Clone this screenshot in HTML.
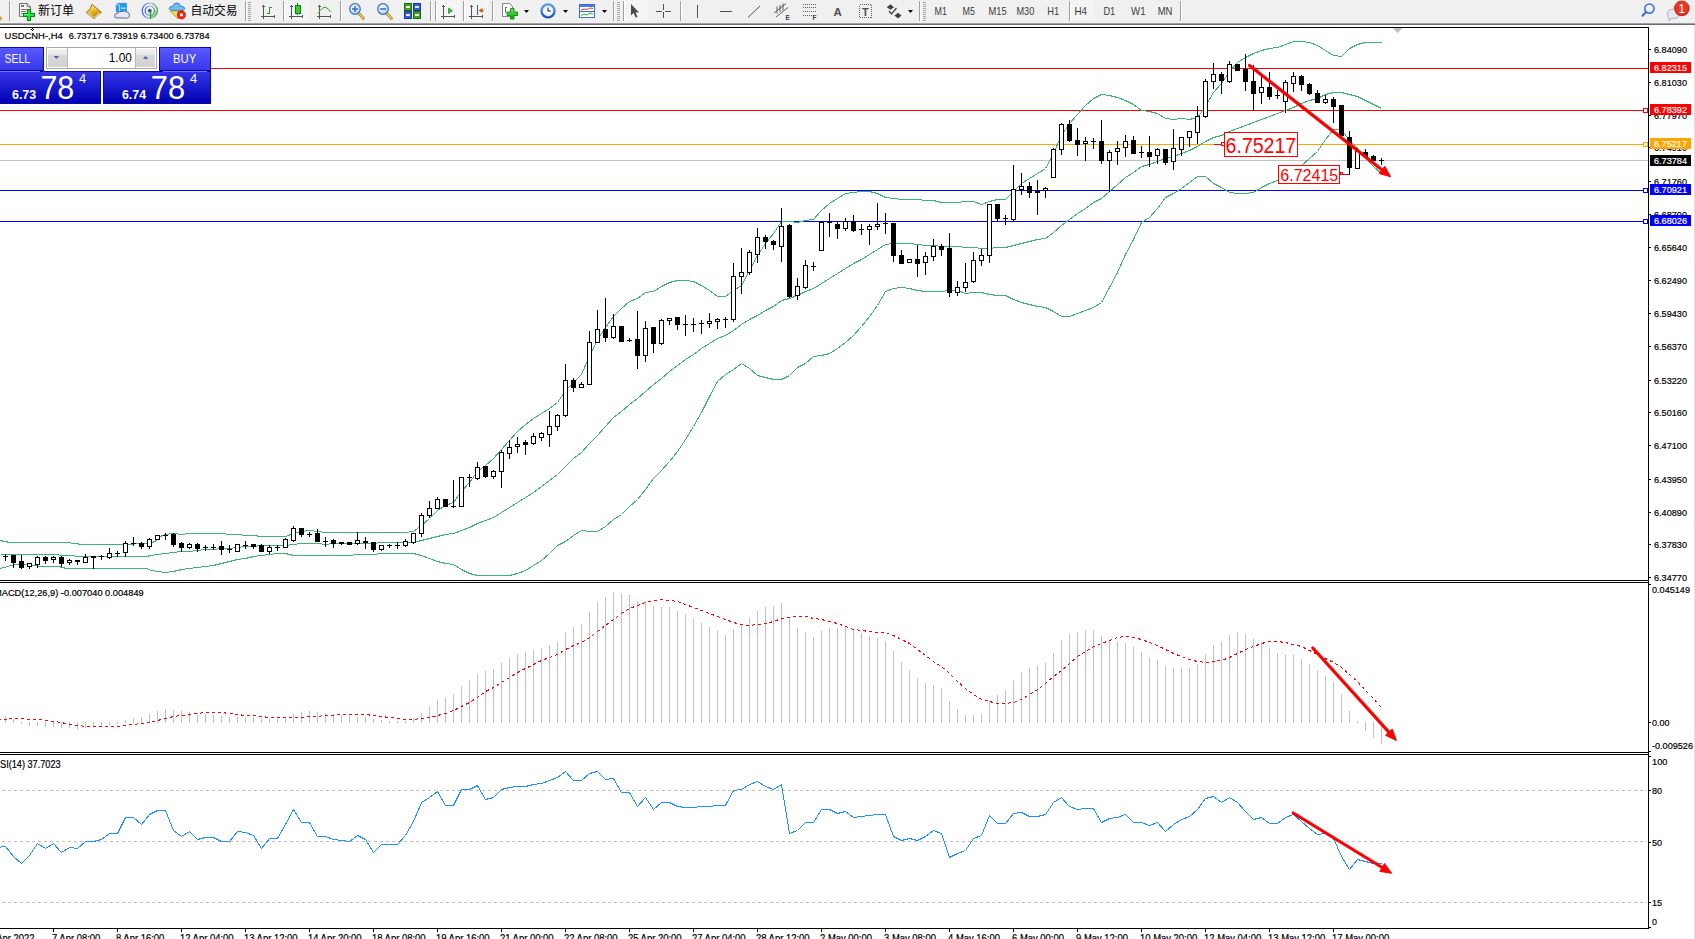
<!DOCTYPE html><html><head><meta charset="utf-8"><title>MT4</title><style>html,body{margin:0;padding:0;background:#fff;}body{width:1695px;height:939px;overflow:hidden;position:relative;}</style></head><body><svg width="1695" height="939" viewBox="0 0 1695 939" style="position:absolute;left:0;top:0"><rect x="0" y="0" width="1695" height="939" fill="#ffffff"/><rect x="0" y="0" width="1695" height="23" fill="#f0f0f0"/><rect x="0" y="23" width="1695" height="1" fill="#a0a0a0"/><rect x="0" y="24" width="1695" height="1" fill="#6e6e6e"/><rect x="1694" y="25" width="1" height="914" fill="#e0e0e0"/><g fill="#000" shape-rendering="crispEdges"><rect x="0" y="27" width="1649" height="1"/><rect x="1648" y="27" width="1" height="902"/><rect x="0" y="580" width="1649" height="1"/><rect x="0" y="582" width="1649" height="1"/><rect x="0" y="752" width="1649" height="1"/><rect x="0" y="754" width="1649" height="1"/><rect x="0" y="928" width="1649" height="1"/></g><g shape-rendering="crispEdges"><rect x="0" y="68" width="1648" height="1" fill="#ff0000"/><rect x="0" y="110" width="1648" height="1" fill="#ff0000"/><rect x="0" y="144" width="1648" height="1" fill="#ffa500"/><rect x="0" y="160" width="1648" height="1" fill="#c0c0c0"/><rect x="0" y="190" width="1648" height="1" fill="#0000ff"/><rect x="0" y="221" width="1648" height="1" fill="#0000ff"/></g><svg x="0" y="28" width="1648" height="552" viewBox="0 28 1648 552" overflow="hidden"><g shape-rendering="crispEdges"><polyline points="0.5,540.5 4.5,541.5 10.5,542.5 25.5,542.5 66.5,542.5 82.5,544.5 98.5,544.5 121.5,544.5 147.5,543.5 155.5,541.5 157.5,537.5 165.5,534.5 173.5,533.5 181.5,534.5 189.5,533.5 197.5,533.5 205.5,533.5 213.5,533.5 221.5,533.5 229.5,534.5 237.5,534.5 245.5,535.5 253.5,535.5 261.5,536.5 269.5,536.5 277.5,536.5 285.5,536.5 293.5,533.5 301.5,531.5 309.5,530.5 317.5,531.5 325.5,532.5 333.5,532.5 341.5,532.5 349.5,532.5 357.5,532.5 365.5,532.5 373.5,532.5 381.5,532.5 389.5,532.5 397.5,532.5 405.5,532.5 413.5,531.5 421.5,525.5 429.5,518.5 437.5,510.5 445.5,505.5 453.5,502.5 461.5,491.5 469.5,482.5 477.5,471.5 485.5,465.5 493.5,458.5 501.5,449.5 509.5,440.5 517.5,431.5 525.5,424.5 533.5,418.5 541.5,413.5 549.5,408.5 557.5,402.5 565.5,390.5 573.5,382.5 581.5,374.5 589.5,356.5 597.5,339.5 605.5,327.5 613.5,316.5 621.5,308.5 629.5,301.5 637.5,298.5 645.5,292.5 653.5,291.5 661.5,286.5 669.5,282.5 677.5,280.5 685.5,280.5 693.5,281.5 701.5,285.5 709.5,290.5 717.5,296.5 725.5,296.5 733.5,290.5 741.5,285.5 749.5,270.5 757.5,255.5 765.5,243.5 773.5,233.5 781.5,221.5 789.5,221.5 797.5,222.5 805.5,220.5 813.5,219.5 821.5,210.5 829.5,203.5 837.5,198.5 845.5,193.5 853.5,192.5 861.5,191.5 869.5,191.5 877.5,193.5 885.5,197.5 893.5,198.5 901.5,199.5 909.5,199.5 917.5,199.5 925.5,200.5 933.5,200.5 941.5,202.5 949.5,202.5 957.5,202.5 965.5,201.5 973.5,201.5 981.5,204.5 989.5,201.5 997.5,199.5 1005.5,199.5 1013.5,191.5 1021.5,183.5 1029.5,178.5 1037.5,173.5 1045.5,168.5 1053.5,153.5 1061.5,135.5 1069.5,123.5 1077.5,114.5 1085.5,105.5 1093.5,98.5 1101.5,94.5 1109.5,95.5 1117.5,97.5 1125.5,100.5 1133.5,104.5 1141.5,110.5 1149.5,111.5 1157.5,113.5 1165.5,118.5 1173.5,119.5 1181.5,118.5 1189.5,119.5 1197.5,117.5 1205.5,106.5 1213.5,92.5 1221.5,83.5 1229.5,71.5 1237.5,62.5 1245.5,57.5 1253.5,53.5 1261.5,50.5 1269.5,48.5 1277.5,47.5 1285.5,44.5 1293.5,41.5 1301.5,41.5 1309.5,42.5 1317.5,45.5 1325.5,50.5 1333.5,55.5 1341.5,56.5 1349.5,48.5 1357.5,44.5 1365.5,42.5 1373.5,42.5 1381.5,42.5" fill="none" stroke="#3cb371" stroke-width="1"/><polyline points="0.5,554.5 50.5,554.5 66.5,555.5 82.5,556.5 98.5,556.5 130.5,556.5 145.5,556.5 157.5,554.5 165.5,553.5 173.5,552.5 181.5,551.5 189.5,551.5 197.5,550.5 205.5,549.5 213.5,549.5 221.5,548.5 229.5,548.5 237.5,547.5 245.5,546.5 253.5,546.5 261.5,545.5 269.5,545.5 277.5,545.5 285.5,545.5 293.5,544.5 301.5,543.5 309.5,543.5 317.5,543.5 325.5,544.5 333.5,543.5 341.5,543.5 349.5,543.5 357.5,543.5 365.5,543.5 373.5,543.5 381.5,542.5 389.5,542.5 397.5,542.5 405.5,542.5 413.5,542.5 421.5,540.5 429.5,538.5 437.5,536.5 445.5,534.5 453.5,533.5 461.5,530.5 469.5,527.5 477.5,523.5 485.5,520.5 493.5,517.5 501.5,512.5 509.5,507.5 517.5,502.5 525.5,497.5 533.5,492.5 541.5,486.5 549.5,480.5 557.5,474.5 565.5,466.5 573.5,458.5 581.5,452.5 589.5,443.5 597.5,435.5 605.5,426.5 613.5,417.5 621.5,411.5 629.5,404.5 637.5,398.5 645.5,391.5 653.5,384.5 661.5,378.5 669.5,371.5 677.5,365.5 685.5,359.5 693.5,354.5 701.5,348.5 709.5,343.5 717.5,338.5 725.5,335.5 733.5,330.5 741.5,324.5 749.5,319.5 757.5,315.5 765.5,310.5 773.5,306.5 781.5,300.5 789.5,298.5 797.5,295.5 805.5,291.5 813.5,288.5 821.5,283.5 829.5,278.5 837.5,273.5 845.5,268.5 853.5,263.5 861.5,259.5 869.5,254.5 877.5,249.5 885.5,244.5 893.5,243.5 901.5,243.5 909.5,243.5 917.5,244.5 925.5,245.5 933.5,245.5 941.5,246.5 949.5,246.5 957.5,246.5 965.5,247.5 973.5,247.5 981.5,248.5 989.5,248.5 997.5,247.5 1005.5,247.5 1013.5,245.5 1021.5,243.5 1029.5,241.5 1037.5,239.5 1045.5,238.5 1053.5,232.5 1061.5,225.5 1069.5,219.5 1077.5,213.5 1085.5,208.5 1093.5,202.5 1101.5,198.5 1109.5,191.5 1117.5,184.5 1125.5,177.5 1133.5,172.5 1141.5,166.5 1149.5,164.5 1157.5,161.5 1165.5,158.5 1173.5,156.5 1181.5,153.5 1189.5,150.5 1197.5,146.5 1205.5,141.5 1213.5,137.5 1221.5,135.5 1229.5,131.5 1237.5,128.5 1245.5,125.5 1253.5,122.5 1261.5,119.5 1269.5,116.5 1277.5,113.5 1285.5,110.5 1293.5,107.5 1301.5,103.5 1309.5,100.5 1317.5,98.5 1325.5,94.5 1333.5,92.5 1341.5,92.5 1349.5,94.5 1357.5,96.5 1365.5,100.5 1373.5,104.5 1381.5,108.5" fill="none" stroke="#3cb371" stroke-width="1"/><polyline points="0.5,568.5 14.5,564.5 25.5,564.5 42.5,566.5 58.5,566.5 66.5,568.5 146.5,568.5 151.5,570.5 157.5,571.5 165.5,572.5 173.5,571.5 181.5,569.5 189.5,568.5 197.5,567.5 205.5,566.5 213.5,565.5 221.5,563.5 229.5,561.5 237.5,559.5 245.5,558.5 253.5,556.5 261.5,555.5 269.5,554.5 277.5,553.5 285.5,553.5 293.5,555.5 301.5,555.5 309.5,555.5 317.5,555.5 325.5,555.5 333.5,555.5 341.5,555.5 349.5,555.5 357.5,554.5 365.5,554.5 373.5,554.5 381.5,553.5 389.5,553.5 397.5,553.5 405.5,553.5 413.5,553.5 421.5,555.5 429.5,558.5 437.5,561.5 445.5,563.5 453.5,564.5 461.5,569.5 469.5,573.5 477.5,575.5 485.5,575.5 493.5,575.5 501.5,575.5 509.5,575.5 517.5,573.5 525.5,570.5 533.5,565.5 541.5,560.5 549.5,553.5 557.5,545.5 565.5,541.5 573.5,535.5 581.5,530.5 589.5,531.5 597.5,531.5 605.5,526.5 613.5,519.5 621.5,514.5 629.5,506.5 637.5,499.5 645.5,489.5 653.5,478.5 661.5,470.5 669.5,461.5 677.5,451.5 685.5,439.5 693.5,426.5 701.5,412.5 709.5,396.5 717.5,381.5 725.5,374.5 733.5,369.5 741.5,363.5 749.5,368.5 757.5,375.5 765.5,377.5 773.5,379.5 781.5,379.5 789.5,375.5 797.5,367.5 805.5,363.5 813.5,356.5 821.5,355.5 829.5,353.5 837.5,348.5 845.5,342.5 853.5,335.5 861.5,326.5 869.5,316.5 877.5,305.5 885.5,291.5 893.5,288.5 901.5,287.5 909.5,288.5 917.5,290.5 925.5,291.5 933.5,291.5 941.5,291.5 949.5,290.5 957.5,290.5 965.5,293.5 973.5,292.5 981.5,292.5 989.5,294.5 997.5,295.5 1005.5,295.5 1013.5,299.5 1021.5,302.5 1029.5,304.5 1037.5,306.5 1045.5,307.5 1053.5,311.5 1061.5,316.5 1069.5,316.5 1077.5,313.5 1085.5,310.5 1093.5,307.5 1101.5,302.5 1109.5,287.5 1117.5,272.5 1125.5,254.5 1133.5,239.5 1141.5,222.5 1149.5,217.5 1157.5,208.5 1165.5,197.5 1173.5,193.5 1181.5,188.5 1189.5,182.5 1197.5,176.5 1205.5,176.5 1213.5,183.5 1221.5,187.5 1229.5,192.5 1237.5,193.5 1245.5,193.5 1253.5,192.5 1261.5,187.5 1269.5,183.5 1277.5,180.5 1285.5,177.5 1293.5,172.5 1301.5,165.5 1309.5,158.5 1317.5,151.5 1325.5,139.5 1333.5,129.5 1341.5,129.5 1349.5,140.5 1357.5,148.5 1365.5,157.5 1373.5,166.5 1381.5,173.5" fill="none" stroke="#3cb371" stroke-width="1"/></g><g fill="#000" shape-rendering="crispEdges"><rect x="5" y="554" width="1" height="7"/><rect x="3" y="556" width="5" height="1"/><rect x="13" y="555" width="1" height="13"/><rect x="11" y="555" width="5" height="8"/><rect x="21" y="555" width="1" height="14"/><rect x="19" y="561" width="5" height="7"/><rect x="29" y="563" width="1" height="6"/><rect x="27" y="563" width="5" height="4"/><rect x="28" y="564" width="3" height="2" fill="#fff"/><rect x="37" y="556" width="1" height="12"/><rect x="35" y="557" width="5" height="8"/><rect x="36" y="558" width="3" height="6" fill="#fff"/><rect x="45" y="556" width="1" height="8"/><rect x="43" y="557" width="5" height="4"/><rect x="53" y="556" width="1" height="7"/><rect x="51" y="557" width="5" height="3"/><rect x="52" y="558" width="3" height="1" fill="#fff"/><rect x="61" y="556" width="1" height="11"/><rect x="59" y="557" width="5" height="7"/><rect x="69" y="559" width="1" height="6"/><rect x="67" y="560" width="5" height="3"/><rect x="68" y="561" width="3" height="1" fill="#fff"/><rect x="77" y="560" width="1" height="5"/><rect x="75" y="560" width="5" height="2"/><rect x="85" y="554" width="1" height="9"/><rect x="83" y="557" width="5" height="6"/><rect x="84" y="558" width="3" height="4" fill="#fff"/><rect x="93" y="556" width="1" height="13"/><rect x="91" y="556" width="5" height="2"/><rect x="101" y="555" width="1" height="5"/><rect x="99" y="556" width="5" height="1"/><rect x="109" y="548" width="1" height="11"/><rect x="107" y="553" width="5" height="5"/><rect x="108" y="554" width="3" height="3" fill="#fff"/><rect x="117" y="551" width="1" height="6"/><rect x="115" y="553" width="5" height="1"/><rect x="125" y="541" width="1" height="16"/><rect x="123" y="543" width="5" height="10"/><rect x="124" y="544" width="3" height="8" fill="#fff"/><rect x="133" y="537" width="1" height="9"/><rect x="131" y="543" width="5" height="1"/><rect x="141" y="542" width="1" height="7"/><rect x="139" y="543" width="5" height="4"/><rect x="149" y="538" width="1" height="11"/><rect x="147" y="539" width="5" height="8"/><rect x="148" y="540" width="3" height="6" fill="#fff"/><rect x="157" y="535" width="1" height="5"/><rect x="155" y="535" width="5" height="5"/><rect x="156" y="536" width="3" height="3" fill="#fff"/><rect x="165" y="533" width="1" height="7"/><rect x="163" y="535" width="5" height="1"/><rect x="173" y="533" width="1" height="14"/><rect x="171" y="534" width="5" height="11"/><rect x="181" y="542" width="1" height="10"/><rect x="179" y="543" width="5" height="5"/><rect x="189" y="543" width="1" height="6"/><rect x="187" y="544" width="5" height="4"/><rect x="188" y="545" width="3" height="2" fill="#fff"/><rect x="197" y="543" width="1" height="9"/><rect x="195" y="544" width="5" height="5"/><rect x="205" y="545" width="1" height="6"/><rect x="203" y="547" width="5" height="1"/><rect x="213" y="544" width="1" height="6"/><rect x="211" y="547" width="5" height="1"/><rect x="221" y="541" width="1" height="14"/><rect x="219" y="546" width="5" height="4"/><rect x="229" y="545" width="1" height="8"/><rect x="227" y="549" width="5" height="1"/><rect x="237" y="544" width="1" height="8"/><rect x="235" y="544" width="5" height="8"/><rect x="236" y="545" width="3" height="6" fill="#fff"/><rect x="245" y="541" width="1" height="8"/><rect x="243" y="545" width="5" height="1"/><rect x="253" y="544" width="1" height="5"/><rect x="251" y="544" width="5" height="3"/><rect x="261" y="544" width="1" height="8"/><rect x="259" y="545" width="5" height="7"/><rect x="269" y="545" width="1" height="9"/><rect x="267" y="547" width="5" height="5"/><rect x="268" y="548" width="3" height="3" fill="#fff"/><rect x="277" y="545" width="1" height="6"/><rect x="275" y="547" width="5" height="1"/><rect x="285" y="538" width="1" height="10"/><rect x="283" y="539" width="5" height="9"/><rect x="284" y="540" width="3" height="7" fill="#fff"/><rect x="293" y="526" width="1" height="16"/><rect x="291" y="528" width="5" height="13"/><rect x="292" y="529" width="3" height="11" fill="#fff"/><rect x="301" y="528" width="1" height="9"/><rect x="299" y="528" width="5" height="7"/><rect x="309" y="532" width="1" height="5"/><rect x="307" y="534" width="5" height="1"/><rect x="317" y="529" width="1" height="13"/><rect x="315" y="533" width="5" height="9"/><rect x="325" y="537" width="1" height="10"/><rect x="323" y="541" width="5" height="1"/><rect x="333" y="539" width="1" height="9"/><rect x="331" y="540" width="5" height="4"/><rect x="341" y="542" width="1" height="3"/><rect x="339" y="542" width="5" height="2"/><rect x="349" y="542" width="1" height="3"/><rect x="347" y="542" width="5" height="3"/><rect x="357" y="532" width="1" height="13"/><rect x="355" y="540" width="5" height="4"/><rect x="356" y="541" width="3" height="2" fill="#fff"/><rect x="365" y="537" width="1" height="12"/><rect x="363" y="541" width="5" height="2"/><rect x="373" y="542" width="1" height="10"/><rect x="371" y="542" width="5" height="8"/><rect x="381" y="545" width="1" height="6"/><rect x="379" y="545" width="5" height="5"/><rect x="380" y="546" width="3" height="3" fill="#fff"/><rect x="389" y="544" width="1" height="4"/><rect x="387" y="545" width="5" height="1"/><rect x="397" y="542" width="1" height="7"/><rect x="395" y="545" width="5" height="1"/><rect x="405" y="539" width="1" height="8"/><rect x="403" y="541" width="5" height="5"/><rect x="404" y="542" width="3" height="3" fill="#fff"/><rect x="413" y="533" width="1" height="11"/><rect x="411" y="533" width="5" height="10"/><rect x="412" y="534" width="3" height="8" fill="#fff"/><rect x="421" y="513" width="1" height="24"/><rect x="419" y="515" width="5" height="19"/><rect x="420" y="516" width="3" height="17" fill="#fff"/><rect x="429" y="501" width="1" height="17"/><rect x="427" y="508" width="5" height="8"/><rect x="428" y="509" width="3" height="6" fill="#fff"/><rect x="437" y="497" width="1" height="12"/><rect x="435" y="499" width="5" height="10"/><rect x="436" y="500" width="3" height="8" fill="#fff"/><rect x="445" y="499" width="1" height="8"/><rect x="443" y="499" width="5" height="8"/><rect x="453" y="480" width="1" height="28"/><rect x="451" y="506" width="5" height="1"/><rect x="461" y="477" width="1" height="30"/><rect x="459" y="477" width="5" height="30"/><rect x="460" y="478" width="3" height="28" fill="#fff"/><rect x="469" y="474" width="1" height="13"/><rect x="467" y="477" width="5" height="1"/><rect x="477" y="462" width="1" height="18"/><rect x="475" y="467" width="5" height="12"/><rect x="476" y="468" width="3" height="10" fill="#fff"/><rect x="485" y="466" width="1" height="12"/><rect x="483" y="466" width="5" height="11"/><rect x="493" y="470" width="1" height="9"/><rect x="491" y="471" width="5" height="6"/><rect x="492" y="472" width="3" height="4" fill="#fff"/><rect x="501" y="450" width="1" height="38"/><rect x="499" y="452" width="5" height="20"/><rect x="500" y="453" width="3" height="18" fill="#fff"/><rect x="509" y="440" width="1" height="19"/><rect x="507" y="447" width="5" height="7"/><rect x="508" y="448" width="3" height="5" fill="#fff"/><rect x="517" y="437" width="1" height="16"/><rect x="515" y="444" width="5" height="3"/><rect x="516" y="445" width="3" height="1" fill="#fff"/><rect x="525" y="440" width="1" height="15"/><rect x="523" y="442" width="5" height="3"/><rect x="533" y="433" width="1" height="12"/><rect x="531" y="436" width="5" height="8"/><rect x="532" y="437" width="3" height="6" fill="#fff"/><rect x="541" y="432" width="1" height="9"/><rect x="539" y="433" width="5" height="5"/><rect x="540" y="434" width="3" height="3" fill="#fff"/><rect x="549" y="411" width="1" height="36"/><rect x="547" y="426" width="5" height="9"/><rect x="548" y="427" width="3" height="7" fill="#fff"/><rect x="557" y="414" width="1" height="17"/><rect x="555" y="415" width="5" height="12"/><rect x="556" y="416" width="3" height="10" fill="#fff"/><rect x="565" y="364" width="1" height="53"/><rect x="563" y="380" width="5" height="36"/><rect x="564" y="381" width="3" height="34" fill="#fff"/><rect x="573" y="378" width="1" height="14"/><rect x="571" y="380" width="5" height="8"/><rect x="581" y="382" width="1" height="6"/><rect x="579" y="384" width="5" height="4"/><rect x="580" y="385" width="3" height="2" fill="#fff"/><rect x="589" y="331" width="1" height="54"/><rect x="587" y="342" width="5" height="43"/><rect x="588" y="343" width="3" height="41" fill="#fff"/><rect x="597" y="310" width="1" height="33"/><rect x="595" y="329" width="5" height="14"/><rect x="596" y="330" width="3" height="12" fill="#fff"/><rect x="605" y="298" width="1" height="44"/><rect x="603" y="329" width="5" height="9"/><rect x="613" y="314" width="1" height="25"/><rect x="611" y="326" width="5" height="12"/><rect x="612" y="327" width="3" height="10" fill="#fff"/><rect x="621" y="326" width="1" height="16"/><rect x="619" y="326" width="5" height="16"/><rect x="629" y="338" width="1" height="4"/><rect x="627" y="340" width="5" height="1"/><rect x="637" y="311" width="1" height="58"/><rect x="635" y="339" width="5" height="17"/><rect x="645" y="321" width="1" height="41"/><rect x="643" y="328" width="5" height="28"/><rect x="644" y="329" width="3" height="26" fill="#fff"/><rect x="653" y="327" width="1" height="26"/><rect x="651" y="327" width="5" height="17"/><rect x="661" y="319" width="1" height="26"/><rect x="659" y="320" width="5" height="24"/><rect x="660" y="321" width="3" height="22" fill="#fff"/><rect x="669" y="318" width="1" height="7"/><rect x="667" y="318" width="5" height="3"/><rect x="668" y="319" width="3" height="1" fill="#fff"/><rect x="677" y="317" width="1" height="13"/><rect x="675" y="317" width="5" height="8"/><rect x="685" y="315" width="1" height="21"/><rect x="683" y="324" width="5" height="1"/><rect x="693" y="318" width="1" height="14"/><rect x="691" y="324" width="5" height="1"/><rect x="701" y="320" width="1" height="14"/><rect x="699" y="323" width="5" height="1"/><rect x="709" y="313" width="1" height="15"/><rect x="707" y="321" width="5" height="3"/><rect x="708" y="322" width="3" height="1" fill="#fff"/><rect x="717" y="318" width="1" height="11"/><rect x="715" y="319" width="5" height="3"/><rect x="716" y="320" width="3" height="1" fill="#fff"/><rect x="725" y="317" width="1" height="11"/><rect x="723" y="319" width="5" height="1"/><rect x="733" y="263" width="1" height="59"/><rect x="731" y="276" width="5" height="44"/><rect x="732" y="277" width="3" height="42" fill="#fff"/><rect x="741" y="248" width="1" height="46"/><rect x="739" y="272" width="5" height="5"/><rect x="740" y="273" width="3" height="3" fill="#fff"/><rect x="749" y="250" width="1" height="25"/><rect x="747" y="252" width="5" height="21"/><rect x="748" y="253" width="3" height="19" fill="#fff"/><rect x="757" y="228" width="1" height="35"/><rect x="755" y="237" width="5" height="18"/><rect x="756" y="238" width="3" height="16" fill="#fff"/><rect x="765" y="235" width="1" height="14"/><rect x="763" y="237" width="5" height="5"/><rect x="773" y="240" width="1" height="10"/><rect x="771" y="241" width="5" height="4"/><rect x="781" y="208" width="1" height="54"/><rect x="779" y="226" width="5" height="21"/><rect x="780" y="227" width="3" height="19" fill="#fff"/><rect x="789" y="224" width="1" height="74"/><rect x="787" y="225" width="5" height="72"/><rect x="797" y="278" width="1" height="22"/><rect x="795" y="286" width="5" height="10"/><rect x="796" y="287" width="3" height="8" fill="#fff"/><rect x="805" y="260" width="1" height="29"/><rect x="803" y="265" width="5" height="23"/><rect x="804" y="266" width="3" height="21" fill="#fff"/><rect x="813" y="262" width="1" height="9"/><rect x="811" y="266" width="5" height="1"/><rect x="821" y="221" width="1" height="30"/><rect x="819" y="222" width="5" height="29"/><rect x="820" y="223" width="3" height="27" fill="#fff"/><rect x="829" y="213" width="1" height="24"/><rect x="827" y="222" width="5" height="1"/><rect x="837" y="222" width="1" height="17"/><rect x="835" y="224" width="5" height="5"/><rect x="845" y="218" width="1" height="13"/><rect x="843" y="221" width="5" height="8"/><rect x="844" y="222" width="3" height="6" fill="#fff"/><rect x="853" y="215" width="1" height="17"/><rect x="851" y="221" width="5" height="10"/><rect x="861" y="224" width="1" height="11"/><rect x="859" y="229" width="5" height="1"/><rect x="869" y="224" width="1" height="21"/><rect x="867" y="226" width="5" height="4"/><rect x="868" y="227" width="3" height="2" fill="#fff"/><rect x="877" y="203" width="1" height="27"/><rect x="875" y="224" width="5" height="3"/><rect x="876" y="225" width="3" height="1" fill="#fff"/><rect x="885" y="213" width="1" height="21"/><rect x="883" y="223" width="5" height="1"/><rect x="893" y="223" width="1" height="39"/><rect x="891" y="223" width="5" height="33"/><rect x="901" y="250" width="1" height="14"/><rect x="899" y="255" width="5" height="9"/><rect x="909" y="259" width="1" height="4"/><rect x="907" y="259" width="5" height="4"/><rect x="908" y="260" width="3" height="2" fill="#fff"/><rect x="917" y="245" width="1" height="32"/><rect x="915" y="259" width="5" height="5"/><rect x="925" y="252" width="1" height="23"/><rect x="923" y="256" width="5" height="7"/><rect x="924" y="257" width="3" height="5" fill="#fff"/><rect x="933" y="239" width="1" height="22"/><rect x="931" y="246" width="5" height="11"/><rect x="932" y="247" width="3" height="9" fill="#fff"/><rect x="941" y="244" width="1" height="12"/><rect x="939" y="246" width="5" height="4"/><rect x="949" y="233" width="1" height="64"/><rect x="947" y="248" width="5" height="45"/><rect x="957" y="281" width="1" height="15"/><rect x="955" y="287" width="5" height="6"/><rect x="956" y="288" width="3" height="4" fill="#fff"/><rect x="965" y="263" width="1" height="29"/><rect x="963" y="282" width="5" height="6"/><rect x="964" y="283" width="3" height="4" fill="#fff"/><rect x="973" y="252" width="1" height="31"/><rect x="971" y="260" width="5" height="22"/><rect x="972" y="261" width="3" height="20" fill="#fff"/><rect x="981" y="249" width="1" height="17"/><rect x="979" y="255" width="5" height="6"/><rect x="980" y="256" width="3" height="4" fill="#fff"/><rect x="989" y="204" width="1" height="59"/><rect x="987" y="204" width="5" height="52"/><rect x="988" y="205" width="3" height="50" fill="#fff"/><rect x="997" y="204" width="1" height="17"/><rect x="995" y="204" width="5" height="15"/><rect x="1005" y="215" width="1" height="10"/><rect x="1003" y="218" width="5" height="1"/><rect x="1013" y="165" width="1" height="56"/><rect x="1011" y="189" width="5" height="31"/><rect x="1012" y="190" width="3" height="29" fill="#fff"/><rect x="1021" y="173" width="1" height="22"/><rect x="1019" y="186" width="5" height="4"/><rect x="1020" y="187" width="3" height="2" fill="#fff"/><rect x="1029" y="182" width="1" height="16"/><rect x="1027" y="186" width="5" height="7"/><rect x="1037" y="180" width="1" height="35"/><rect x="1035" y="191" width="5" height="2"/><rect x="1045" y="187" width="1" height="11"/><rect x="1043" y="188" width="5" height="3"/><rect x="1044" y="189" width="3" height="1" fill="#fff"/><rect x="1053" y="148" width="1" height="30"/><rect x="1051" y="149" width="5" height="29"/><rect x="1052" y="150" width="3" height="27" fill="#fff"/><rect x="1061" y="123" width="1" height="32"/><rect x="1059" y="124" width="5" height="26"/><rect x="1060" y="125" width="3" height="24" fill="#fff"/><rect x="1069" y="120" width="1" height="22"/><rect x="1067" y="124" width="5" height="17"/><rect x="1077" y="128" width="1" height="28"/><rect x="1075" y="140" width="5" height="5"/><rect x="1085" y="137" width="1" height="24"/><rect x="1083" y="141" width="5" height="3"/><rect x="1084" y="142" width="3" height="1" fill="#fff"/><rect x="1093" y="138" width="1" height="11"/><rect x="1091" y="141" width="5" height="1"/><rect x="1101" y="120" width="1" height="44"/><rect x="1099" y="141" width="5" height="20"/><rect x="1109" y="150" width="1" height="42"/><rect x="1107" y="152" width="5" height="9"/><rect x="1108" y="153" width="3" height="7" fill="#fff"/><rect x="1117" y="141" width="1" height="24"/><rect x="1115" y="148" width="5" height="4"/><rect x="1116" y="149" width="3" height="2" fill="#fff"/><rect x="1125" y="135" width="1" height="22"/><rect x="1123" y="141" width="5" height="7"/><rect x="1124" y="142" width="3" height="5" fill="#fff"/><rect x="1133" y="136" width="1" height="18"/><rect x="1131" y="140" width="5" height="14"/><rect x="1141" y="146" width="1" height="12"/><rect x="1139" y="152" width="5" height="1"/><rect x="1149" y="136" width="1" height="31"/><rect x="1147" y="152" width="5" height="5"/><rect x="1157" y="148" width="1" height="16"/><rect x="1155" y="149" width="5" height="7"/><rect x="1156" y="150" width="3" height="5" fill="#fff"/><rect x="1165" y="149" width="1" height="16"/><rect x="1163" y="149" width="5" height="14"/><rect x="1173" y="129" width="1" height="41"/><rect x="1171" y="148" width="5" height="14"/><rect x="1172" y="149" width="3" height="12" fill="#fff"/><rect x="1181" y="137" width="1" height="19"/><rect x="1179" y="137" width="5" height="13"/><rect x="1180" y="138" width="3" height="11" fill="#fff"/><rect x="1189" y="131" width="1" height="16"/><rect x="1187" y="131" width="5" height="7"/><rect x="1188" y="132" width="3" height="5" fill="#fff"/><rect x="1197" y="106" width="1" height="38"/><rect x="1195" y="116" width="5" height="17"/><rect x="1196" y="117" width="3" height="15" fill="#fff"/><rect x="1205" y="79" width="1" height="39"/><rect x="1203" y="81" width="5" height="36"/><rect x="1204" y="82" width="3" height="34" fill="#fff"/><rect x="1213" y="63" width="1" height="26"/><rect x="1211" y="74" width="5" height="8"/><rect x="1212" y="75" width="3" height="6" fill="#fff"/><rect x="1221" y="72" width="1" height="22"/><rect x="1219" y="74" width="5" height="7"/><rect x="1229" y="61" width="1" height="22"/><rect x="1227" y="64" width="5" height="18"/><rect x="1228" y="65" width="3" height="16" fill="#fff"/><rect x="1237" y="64" width="1" height="7"/><rect x="1235" y="64" width="5" height="7"/><rect x="1245" y="54" width="1" height="37"/><rect x="1243" y="69" width="5" height="13"/><rect x="1253" y="65" width="1" height="46"/><rect x="1251" y="81" width="5" height="13"/><rect x="1261" y="76" width="1" height="28"/><rect x="1259" y="87" width="5" height="6"/><rect x="1260" y="88" width="3" height="4" fill="#fff"/><rect x="1269" y="72" width="1" height="28"/><rect x="1267" y="87" width="5" height="10"/><rect x="1277" y="90" width="1" height="9"/><rect x="1275" y="95" width="5" height="1"/><rect x="1285" y="80" width="1" height="33"/><rect x="1283" y="82" width="5" height="20"/><rect x="1284" y="83" width="3" height="18" fill="#fff"/><rect x="1293" y="72" width="1" height="20"/><rect x="1291" y="76" width="5" height="8"/><rect x="1292" y="77" width="3" height="6" fill="#fff"/><rect x="1301" y="75" width="1" height="16"/><rect x="1299" y="76" width="5" height="9"/><rect x="1309" y="83" width="1" height="12"/><rect x="1307" y="84" width="5" height="10"/><rect x="1317" y="90" width="1" height="13"/><rect x="1315" y="93" width="5" height="10"/><rect x="1325" y="95" width="1" height="9"/><rect x="1323" y="99" width="5" height="4"/><rect x="1324" y="100" width="3" height="2" fill="#fff"/><rect x="1333" y="97" width="1" height="26"/><rect x="1331" y="99" width="5" height="8"/><rect x="1341" y="105" width="1" height="31"/><rect x="1339" y="105" width="5" height="31"/><rect x="1349" y="131" width="1" height="44"/><rect x="1347" y="137" width="5" height="31"/><rect x="1357" y="148" width="1" height="21"/><rect x="1355" y="151" width="5" height="18"/><rect x="1356" y="152" width="3" height="16" fill="#fff"/><rect x="1365" y="149" width="1" height="8"/><rect x="1363" y="152" width="5" height="5"/><rect x="1373" y="155" width="1" height="6"/><rect x="1371" y="156" width="5" height="5"/><rect x="1381" y="158" width="1" height="7"/><rect x="1379" y="160" width="5" height="1"/></g><g shape-rendering="crispEdges"><rect x="1214" y="144" width="8" height="1" fill="#ff0000"/><rect x="1221.5" y="142.5" width="3" height="3" fill="#fff" stroke="#ff0000"/><rect x="1224.5" y="132.5" width="73" height="24" fill="#fff" stroke="#ff0000"/><rect x="1340.5" y="172.5" width="2" height="2" fill="#fff" stroke="#ff0000"/><rect x="1343" y="174" width="6" height="1" fill="#ff0000"/><rect x="1278.5" y="165.5" width="61" height="18" fill="#fff" stroke="#ff0000"/></g><text x="1225.6" y="153.2" font-size="22" fill="#ff0000" textLength="70.60" lengthAdjust="spacingAndGlyphs" font-family="'Liberation Sans', Arial, sans-serif" >6.75217</text><text x="1280.3" y="181.4" font-size="16.8" fill="#ff0000" textLength="58.00" lengthAdjust="spacingAndGlyphs" font-family="'Liberation Sans', Arial, sans-serif" >6.72415</text><path d="M1393 28H1402.2L1397.6 33.2Z" fill="#c0c0c0"/></svg><svg x="0" y="583" width="1648" height="169" viewBox="0 583 1648 169" overflow="hidden"><g fill="#c0c0c0" shape-rendering="crispEdges"><rect x="5" y="716" width="1" height="7"/><rect x="13" y="719" width="1" height="4"/><rect x="21" y="722" width="1" height="2"/><rect x="29" y="722" width="1" height="4"/><rect x="37" y="722" width="1" height="4"/><rect x="45" y="722" width="1" height="5"/><rect x="53" y="722" width="1" height="5"/><rect x="61" y="722" width="1" height="6"/><rect x="69" y="722" width="1" height="6"/><rect x="77" y="722" width="1" height="7"/><rect x="85" y="722" width="1" height="6"/><rect x="93" y="722" width="1" height="5"/><rect x="101" y="722" width="1" height="5"/><rect x="109" y="722" width="1" height="3"/><rect x="117" y="722" width="1" height="2"/><rect x="125" y="720" width="1" height="3"/><rect x="133" y="718" width="1" height="5"/><rect x="141" y="717" width="1" height="6"/><rect x="149" y="714" width="1" height="9"/><rect x="157" y="711" width="1" height="12"/><rect x="165" y="709" width="1" height="14"/><rect x="173" y="710" width="1" height="13"/><rect x="181" y="711" width="1" height="12"/><rect x="189" y="712" width="1" height="11"/><rect x="197" y="713" width="1" height="10"/><rect x="205" y="714" width="1" height="9"/><rect x="213" y="715" width="1" height="8"/><rect x="221" y="716" width="1" height="7"/><rect x="229" y="717" width="1" height="6"/><rect x="237" y="717" width="1" height="6"/><rect x="245" y="717" width="1" height="6"/><rect x="253" y="717" width="1" height="6"/><rect x="261" y="718" width="1" height="5"/><rect x="269" y="719" width="1" height="4"/><rect x="277" y="719" width="1" height="4"/><rect x="285" y="717" width="1" height="6"/><rect x="293" y="714" width="1" height="9"/><rect x="301" y="712" width="1" height="11"/><rect x="309" y="711" width="1" height="12"/><rect x="317" y="712" width="1" height="11"/><rect x="325" y="713" width="1" height="10"/><rect x="333" y="714" width="1" height="9"/><rect x="341" y="715" width="1" height="8"/><rect x="349" y="716" width="1" height="7"/><rect x="357" y="717" width="1" height="6"/><rect x="365" y="717" width="1" height="6"/><rect x="373" y="719" width="1" height="4"/><rect x="381" y="720" width="1" height="3"/><rect x="389" y="721" width="1" height="2"/><rect x="397" y="721" width="1" height="2"/><rect x="405" y="721" width="1" height="2"/><rect x="413" y="718" width="1" height="5"/><rect x="421" y="713" width="1" height="10"/><rect x="429" y="707" width="1" height="16"/><rect x="437" y="700" width="1" height="23"/><rect x="445" y="697" width="1" height="26"/><rect x="453" y="694" width="1" height="29"/><rect x="461" y="686" width="1" height="37"/><rect x="469" y="680" width="1" height="43"/><rect x="477" y="674" width="1" height="49"/><rect x="485" y="671" width="1" height="52"/><rect x="493" y="669" width="1" height="54"/><rect x="501" y="663" width="1" height="60"/><rect x="509" y="658" width="1" height="65"/><rect x="517" y="654" width="1" height="69"/><rect x="525" y="652" width="1" height="71"/><rect x="533" y="650" width="1" height="73"/><rect x="541" y="648" width="1" height="75"/><rect x="549" y="645" width="1" height="78"/><rect x="557" y="642" width="1" height="81"/><rect x="565" y="632" width="1" height="91"/><rect x="573" y="627" width="1" height="96"/><rect x="581" y="624" width="1" height="99"/><rect x="589" y="612" width="1" height="111"/><rect x="597" y="602" width="1" height="121"/><rect x="605" y="597" width="1" height="126"/><rect x="613" y="592" width="1" height="131"/><rect x="621" y="593" width="1" height="130"/><rect x="629" y="595" width="1" height="128"/><rect x="637" y="601" width="1" height="122"/><rect x="645" y="601" width="1" height="122"/><rect x="653" y="606" width="1" height="117"/><rect x="661" y="607" width="1" height="116"/><rect x="669" y="607" width="1" height="116"/><rect x="677" y="611" width="1" height="112"/><rect x="685" y="614" width="1" height="109"/><rect x="693" y="619" width="1" height="104"/><rect x="701" y="623" width="1" height="100"/><rect x="709" y="627" width="1" height="96"/><rect x="717" y="631" width="1" height="92"/><rect x="725" y="635" width="1" height="88"/><rect x="733" y="629" width="1" height="94"/><rect x="741" y="625" width="1" height="98"/><rect x="749" y="618" width="1" height="105"/><rect x="757" y="611" width="1" height="112"/><rect x="765" y="607" width="1" height="116"/><rect x="773" y="606" width="1" height="117"/><rect x="781" y="603" width="1" height="120"/><rect x="789" y="617" width="1" height="106"/><rect x="797" y="628" width="1" height="95"/><rect x="805" y="632" width="1" height="91"/><rect x="813" y="637" width="1" height="86"/><rect x="821" y="631" width="1" height="92"/><rect x="829" y="628" width="1" height="95"/><rect x="837" y="628" width="1" height="95"/><rect x="845" y="627" width="1" height="96"/><rect x="853" y="630" width="1" height="93"/><rect x="861" y="633" width="1" height="90"/><rect x="869" y="636" width="1" height="87"/><rect x="877" y="638" width="1" height="85"/><rect x="885" y="641" width="1" height="82"/><rect x="893" y="651" width="1" height="72"/><rect x="901" y="662" width="1" height="61"/><rect x="909" y="670" width="1" height="53"/><rect x="917" y="678" width="1" height="45"/><rect x="925" y="683" width="1" height="40"/><rect x="933" y="685" width="1" height="38"/><rect x="941" y="688" width="1" height="35"/><rect x="949" y="701" width="1" height="22"/><rect x="957" y="709" width="1" height="14"/><rect x="965" y="715" width="1" height="8"/><rect x="973" y="715" width="1" height="8"/><rect x="981" y="714" width="1" height="9"/><rect x="989" y="701" width="1" height="22"/><rect x="997" y="695" width="1" height="28"/><rect x="1005" y="690" width="1" height="33"/><rect x="1013" y="680" width="1" height="43"/><rect x="1021" y="672" width="1" height="51"/><rect x="1029" y="668" width="1" height="55"/><rect x="1037" y="665" width="1" height="58"/><rect x="1045" y="663" width="1" height="60"/><rect x="1053" y="653" width="1" height="70"/><rect x="1061" y="640" width="1" height="83"/><rect x="1069" y="634" width="1" height="89"/><rect x="1077" y="632" width="1" height="91"/><rect x="1085" y="630" width="1" height="93"/><rect x="1093" y="630" width="1" height="93"/><rect x="1101" y="636" width="1" height="87"/><rect x="1109" y="639" width="1" height="84"/><rect x="1117" y="641" width="1" height="82"/><rect x="1125" y="643" width="1" height="80"/><rect x="1133" y="647" width="1" height="76"/><rect x="1141" y="652" width="1" height="71"/><rect x="1149" y="657" width="1" height="66"/><rect x="1157" y="660" width="1" height="63"/><rect x="1165" y="666" width="1" height="57"/><rect x="1173" y="668" width="1" height="55"/><rect x="1181" y="668" width="1" height="55"/><rect x="1189" y="668" width="1" height="55"/><rect x="1197" y="664" width="1" height="59"/><rect x="1205" y="654" width="1" height="69"/><rect x="1213" y="645" width="1" height="78"/><rect x="1221" y="641" width="1" height="82"/><rect x="1229" y="635" width="1" height="88"/><rect x="1237" y="632" width="1" height="91"/><rect x="1245" y="634" width="1" height="89"/><rect x="1253" y="639" width="1" height="84"/><rect x="1261" y="642" width="1" height="81"/><rect x="1269" y="648" width="1" height="75"/><rect x="1277" y="653" width="1" height="70"/><rect x="1285" y="655" width="1" height="68"/><rect x="1293" y="655" width="1" height="68"/><rect x="1301" y="659" width="1" height="64"/><rect x="1309" y="664" width="1" height="59"/><rect x="1317" y="671" width="1" height="52"/><rect x="1325" y="676" width="1" height="47"/><rect x="1333" y="682" width="1" height="41"/><rect x="1341" y="694" width="1" height="29"/><rect x="1349" y="711" width="1" height="12"/><rect x="1357" y="721" width="1" height="2"/><rect x="1365" y="722" width="1" height="9"/><rect x="1373" y="722" width="1" height="16"/><rect x="1381" y="722" width="1" height="22"/></g><polyline points="-2.5,719.5 5.5,719.5 13.5,718.5 21.5,718.5 29.5,719.5 37.5,719.5 45.5,720.5 53.5,721.5 61.5,722.5 69.5,724.5 77.5,725.5 85.5,726.5 93.5,726.5 101.5,726.5 109.5,726.5 117.5,726.5 125.5,725.5 133.5,724.5 141.5,723.5 149.5,722.5 157.5,720.5 165.5,718.5 173.5,716.5 181.5,715.5 189.5,714.5 197.5,713.5 205.5,712.5 213.5,712.5 221.5,712.5 229.5,713.5 237.5,714.5 245.5,715.5 253.5,715.5 261.5,716.5 269.5,717.5 277.5,717.5 285.5,717.5 293.5,717.5 301.5,717.5 309.5,716.5 317.5,716.5 325.5,715.5 333.5,715.5 341.5,714.5 349.5,714.5 357.5,714.5 365.5,714.5 373.5,715.5 381.5,716.5 389.5,717.5 397.5,718.5 405.5,719.5 413.5,719.5 421.5,718.5 429.5,717.5 437.5,715.5 445.5,713.5 453.5,710.5 461.5,706.5 469.5,702.5 477.5,697.5 485.5,691.5 493.5,687.5 501.5,682.5 509.5,677.5 517.5,672.5 525.5,668.5 533.5,664.5 541.5,660.5 549.5,657.5 557.5,654.5 565.5,649.5 573.5,645.5 581.5,642.5 589.5,637.5 597.5,631.5 605.5,625.5 613.5,619.5 621.5,613.5 629.5,608.5 637.5,605.5 645.5,602.5 653.5,600.5 661.5,599.5 669.5,600.5 677.5,601.5 685.5,604.5 693.5,607.5 701.5,610.5 709.5,613.5 717.5,616.5 725.5,619.5 733.5,622.5 741.5,624.5 749.5,625.5 757.5,624.5 765.5,623.5 773.5,621.5 781.5,618.5 789.5,617.5 797.5,616.5 805.5,616.5 813.5,618.5 821.5,619.5 829.5,621.5 837.5,623.5 845.5,626.5 853.5,629.5 861.5,630.5 869.5,631.5 877.5,632.5 885.5,632.5 893.5,635.5 901.5,639.5 909.5,643.5 917.5,649.5 925.5,655.5 933.5,661.5 941.5,666.5 949.5,673.5 957.5,681.5 965.5,688.5 973.5,694.5 981.5,699.5 989.5,701.5 997.5,703.5 1005.5,703.5 1013.5,702.5 1021.5,699.5 1029.5,694.5 1037.5,689.5 1045.5,683.5 1053.5,676.5 1061.5,670.5 1069.5,663.5 1077.5,656.5 1085.5,651.5 1093.5,646.5 1101.5,643.5 1109.5,640.5 1117.5,637.5 1125.5,636.5 1133.5,637.5 1141.5,639.5 1149.5,642.5 1157.5,645.5 1165.5,649.5 1173.5,653.5 1181.5,656.5 1189.5,659.5 1197.5,661.5 1205.5,662.5 1213.5,661.5 1221.5,660.5 1229.5,657.5 1237.5,653.5 1245.5,649.5 1253.5,646.5 1261.5,643.5 1269.5,641.5 1277.5,641.5 1285.5,642.5 1293.5,644.5 1301.5,646.5 1309.5,650.5 1317.5,654.5 1325.5,658.5 1333.5,662.5 1341.5,667.5 1349.5,674.5 1357.5,681.5 1365.5,690.5 1373.5,698.5 1381.5,707.5" fill="none" stroke="#ff0000" stroke-width="1" stroke-dasharray="3,3" shape-rendering="crispEdges"/></svg><g stroke="#c0c0c0" stroke-dasharray="3,3" shape-rendering="crispEdges"><line x1="2" y1="790.5" x2="1647" y2="790.5"/><line x1="2" y1="841.5" x2="1647" y2="841.5"/><line x1="2" y1="902.5" x2="1647" y2="902.5"/></g><svg x="0" y="755" width="1648" height="173" viewBox="0 755 1648 173" overflow="hidden"><polyline points="-2.5,847.5 5.5,846.5 13.5,856.5 21.5,863.5 29.5,855.5 37.5,843.5 45.5,848.5 53.5,843.5 61.5,852.5 69.5,847.5 77.5,848.5 85.5,841.5 93.5,841.5 101.5,839.5 109.5,833.5 117.5,833.5 125.5,817.5 133.5,817.5 141.5,824.5 149.5,814.5 157.5,810.5 165.5,810.5 173.5,830.5 181.5,836.5 189.5,831.5 197.5,839.5 205.5,837.5 213.5,837.5 221.5,841.5 229.5,841.5 237.5,831.5 245.5,832.5 253.5,835.5 261.5,848.5 269.5,838.5 277.5,838.5 285.5,824.5 293.5,809.5 301.5,822.5 309.5,822.5 317.5,836.5 325.5,836.5 333.5,839.5 341.5,840.5 349.5,841.5 357.5,835.5 365.5,839.5 373.5,852.5 381.5,844.5 389.5,844.5 397.5,844.5 405.5,835.5 413.5,821.5 421.5,802.5 429.5,797.5 437.5,791.5 445.5,805.5 453.5,805.5 461.5,789.5 469.5,789.5 477.5,785.5 485.5,799.5 493.5,797.5 501.5,789.5 509.5,787.5 517.5,786.5 525.5,786.5 533.5,784.5 541.5,783.5 549.5,780.5 557.5,777.5 565.5,771.5 573.5,780.5 581.5,780.5 589.5,773.5 597.5,771.5 605.5,779.5 613.5,778.5 621.5,792.5 629.5,792.5 637.5,806.5 645.5,797.5 653.5,809.5 661.5,802.5 669.5,802.5 677.5,806.5 685.5,807.5 693.5,807.5 701.5,806.5 709.5,806.5 717.5,805.5 725.5,805.5 733.5,790.5 741.5,789.5 749.5,784.5 757.5,781.5 765.5,786.5 773.5,789.5 781.5,784.5 789.5,833.5 797.5,830.5 805.5,822.5 813.5,822.5 821.5,809.5 829.5,809.5 837.5,813.5 845.5,811.5 853.5,817.5 861.5,816.5 869.5,815.5 877.5,814.5 885.5,814.5 893.5,836.5 901.5,840.5 909.5,838.5 917.5,840.5 925.5,836.5 933.5,830.5 941.5,833.5 949.5,857.5 957.5,853.5 965.5,850.5 973.5,838.5 981.5,835.5 989.5,815.5 997.5,823.5 1005.5,823.5 1013.5,813.5 1021.5,812.5 1029.5,816.5 1037.5,816.5 1045.5,814.5 1053.5,802.5 1061.5,797.5 1069.5,806.5 1077.5,809.5 1085.5,808.5 1093.5,808.5 1101.5,822.5 1109.5,818.5 1117.5,817.5 1125.5,814.5 1133.5,822.5 1141.5,822.5 1149.5,825.5 1157.5,822.5 1165.5,831.5 1173.5,824.5 1181.5,819.5 1189.5,816.5 1197.5,809.5 1205.5,798.5 1213.5,796.5 1221.5,802.5 1229.5,797.5 1237.5,802.5 1245.5,811.5 1253.5,819.5 1261.5,817.5 1269.5,823.5 1277.5,823.5 1285.5,817.5 1293.5,814.5 1301.5,821.5 1309.5,828.5 1317.5,834.5 1325.5,833.5 1333.5,838.5 1341.5,856.5 1349.5,869.5 1357.5,859.5 1365.5,861.5 1373.5,863.5 1381.5,863.5" fill="none" stroke="#1e90ff" stroke-width="1" shape-rendering="crispEdges"/></svg><g shape-rendering="crispEdges"><rect x="1649" y="49" width="2" height="1" fill="#000"/><rect x="1649" y="82" width="2" height="1" fill="#000"/><rect x="1649" y="115" width="2" height="1" fill="#000"/><rect x="1649" y="147" width="2" height="1" fill="#000"/><rect x="1649" y="181" width="2" height="1" fill="#000"/><rect x="1649" y="214" width="2" height="1" fill="#000"/><rect x="1649" y="247" width="2" height="1" fill="#000"/><rect x="1649" y="280" width="2" height="1" fill="#000"/><rect x="1649" y="313" width="2" height="1" fill="#000"/><rect x="1649" y="346" width="2" height="1" fill="#000"/><rect x="1649" y="380" width="2" height="1" fill="#000"/><rect x="1649" y="412" width="2" height="1" fill="#000"/><rect x="1649" y="445" width="2" height="1" fill="#000"/><rect x="1649" y="479" width="2" height="1" fill="#000"/><rect x="1649" y="512" width="2" height="1" fill="#000"/><rect x="1649" y="544" width="2" height="1" fill="#000"/><rect x="1649" y="577" width="2" height="1" fill="#000"/></g><text x="1654" y="53" font-size="9.6" fill="#000" stroke="#000" stroke-width="0.2" textLength="33.00" lengthAdjust="spacingAndGlyphs" font-family="'Liberation Sans', Arial, sans-serif" >6.84090</text><text x="1654" y="86" font-size="9.6" fill="#000" stroke="#000" stroke-width="0.2" textLength="33.00" lengthAdjust="spacingAndGlyphs" font-family="'Liberation Sans', Arial, sans-serif" >6.81030</text><text x="1654" y="119" font-size="9.6" fill="#000" stroke="#000" stroke-width="0.2" textLength="33.00" lengthAdjust="spacingAndGlyphs" font-family="'Liberation Sans', Arial, sans-serif" >6.77970</text><text x="1654" y="151" font-size="9.6" fill="#000" stroke="#000" stroke-width="0.2" textLength="33.00" lengthAdjust="spacingAndGlyphs" font-family="'Liberation Sans', Arial, sans-serif" >6.74910</text><text x="1654" y="185" font-size="9.6" fill="#000" stroke="#000" stroke-width="0.2" textLength="33.00" lengthAdjust="spacingAndGlyphs" font-family="'Liberation Sans', Arial, sans-serif" >6.71760</text><text x="1654" y="218" font-size="9.6" fill="#000" stroke="#000" stroke-width="0.2" textLength="33.00" lengthAdjust="spacingAndGlyphs" font-family="'Liberation Sans', Arial, sans-serif" >6.68700</text><text x="1654" y="251" font-size="9.6" fill="#000" stroke="#000" stroke-width="0.2" textLength="33.00" lengthAdjust="spacingAndGlyphs" font-family="'Liberation Sans', Arial, sans-serif" >6.65640</text><text x="1654" y="284" font-size="9.6" fill="#000" stroke="#000" stroke-width="0.2" textLength="33.00" lengthAdjust="spacingAndGlyphs" font-family="'Liberation Sans', Arial, sans-serif" >6.62490</text><text x="1654" y="317" font-size="9.6" fill="#000" stroke="#000" stroke-width="0.2" textLength="33.00" lengthAdjust="spacingAndGlyphs" font-family="'Liberation Sans', Arial, sans-serif" >6.59430</text><text x="1654" y="350" font-size="9.6" fill="#000" stroke="#000" stroke-width="0.2" textLength="33.00" lengthAdjust="spacingAndGlyphs" font-family="'Liberation Sans', Arial, sans-serif" >6.56370</text><text x="1654" y="384" font-size="9.6" fill="#000" stroke="#000" stroke-width="0.2" textLength="33.00" lengthAdjust="spacingAndGlyphs" font-family="'Liberation Sans', Arial, sans-serif" >6.53220</text><text x="1654" y="416" font-size="9.6" fill="#000" stroke="#000" stroke-width="0.2" textLength="33.00" lengthAdjust="spacingAndGlyphs" font-family="'Liberation Sans', Arial, sans-serif" >6.50160</text><text x="1654" y="449" font-size="9.6" fill="#000" stroke="#000" stroke-width="0.2" textLength="33.00" lengthAdjust="spacingAndGlyphs" font-family="'Liberation Sans', Arial, sans-serif" >6.47100</text><text x="1654" y="483" font-size="9.6" fill="#000" stroke="#000" stroke-width="0.2" textLength="33.00" lengthAdjust="spacingAndGlyphs" font-family="'Liberation Sans', Arial, sans-serif" >6.43950</text><text x="1654" y="516" font-size="9.6" fill="#000" stroke="#000" stroke-width="0.2" textLength="33.00" lengthAdjust="spacingAndGlyphs" font-family="'Liberation Sans', Arial, sans-serif" >6.40890</text><text x="1654" y="548" font-size="9.6" fill="#000" stroke="#000" stroke-width="0.2" textLength="33.00" lengthAdjust="spacingAndGlyphs" font-family="'Liberation Sans', Arial, sans-serif" >6.37830</text><text x="1654" y="581" font-size="9.6" fill="#000" stroke="#000" stroke-width="0.2" textLength="33.00" lengthAdjust="spacingAndGlyphs" font-family="'Liberation Sans', Arial, sans-serif" >6.34770</text><rect x="1650" y="62" width="41" height="11" fill="#ff0000" shape-rendering="crispEdges"/><text x="1654" y="71" font-size="9.6" fill="#fff" stroke="#fff" stroke-width="0.2" textLength="33.00" lengthAdjust="spacingAndGlyphs" font-family="'Liberation Sans', Arial, sans-serif" >6.82315</text><rect x="1650" y="104" width="41" height="11" fill="#ff0000" shape-rendering="crispEdges"/><text x="1654" y="113" font-size="9.6" fill="#fff" stroke="#fff" stroke-width="0.2" textLength="33.00" lengthAdjust="spacingAndGlyphs" font-family="'Liberation Sans', Arial, sans-serif" >6.78392</text><rect x="1643.5" y="108.5" width="4" height="4" fill="#fff" stroke="#ff0000" stroke-width="1" shape-rendering="crispEdges"/><rect x="1650" y="138" width="41" height="11" fill="#ffa500" shape-rendering="crispEdges"/><text x="1654" y="147" font-size="9.6" fill="#fff" stroke="#fff" stroke-width="0.2" textLength="33.00" lengthAdjust="spacingAndGlyphs" font-family="'Liberation Sans', Arial, sans-serif" >6.75217</text><rect x="1643.5" y="142.5" width="4" height="4" fill="#fff" stroke="#ffa500" stroke-width="1" shape-rendering="crispEdges"/><rect x="1650" y="155" width="41" height="11" fill="#000000" shape-rendering="crispEdges"/><text x="1654" y="164" font-size="9.6" fill="#fff" stroke="#fff" stroke-width="0.2" textLength="33.00" lengthAdjust="spacingAndGlyphs" font-family="'Liberation Sans', Arial, sans-serif" >6.73784</text><rect x="1650" y="184" width="41" height="11" fill="#0000ff" shape-rendering="crispEdges"/><text x="1654" y="193" font-size="9.6" fill="#fff" stroke="#fff" stroke-width="0.2" textLength="33.00" lengthAdjust="spacingAndGlyphs" font-family="'Liberation Sans', Arial, sans-serif" >6.70921</text><rect x="1643.5" y="188.5" width="4" height="4" fill="#fff" stroke="#0000ff" stroke-width="1" shape-rendering="crispEdges"/><rect x="1650" y="215" width="41" height="11" fill="#0000ff" shape-rendering="crispEdges"/><text x="1654" y="224" font-size="9.6" fill="#fff" stroke="#fff" stroke-width="0.2" textLength="33.00" lengthAdjust="spacingAndGlyphs" font-family="'Liberation Sans', Arial, sans-serif" >6.68026</text><rect x="1643.5" y="219.5" width="4" height="4" fill="#fff" stroke="#0000ff" stroke-width="1" shape-rendering="crispEdges"/><g fill="#000" shape-rendering="crispEdges"><rect x="1649" y="584" width="2" height="1"/><rect x="1649" y="722" width="2" height="1"/><rect x="1649" y="751" width="2" height="1"/><rect x="1649" y="756" width="2" height="1"/><rect x="1649" y="790" width="2" height="1"/><rect x="1649" y="842" width="2" height="1"/><rect x="1649" y="902" width="2" height="1"/><rect x="1649" y="927" width="2" height="1"/></g><text x="1652" y="593" font-size="9.6" fill="#000" stroke="#000" stroke-width="0.2" textLength="38.00" lengthAdjust="spacingAndGlyphs" font-family="'Liberation Sans', Arial, sans-serif" >0.045149</text><text x="1652" y="726" font-size="9.6" fill="#000" stroke="#000" stroke-width="0.2" textLength="17.50" lengthAdjust="spacingAndGlyphs" font-family="'Liberation Sans', Arial, sans-serif" >0.00</text><text x="1652" y="749" font-size="9.6" fill="#000" stroke="#000" stroke-width="0.2" textLength="41.00" lengthAdjust="spacingAndGlyphs" font-family="'Liberation Sans', Arial, sans-serif" >-0.009526</text><text x="1652" y="765" font-size="9.6" fill="#000" stroke="#000" stroke-width="0.2" textLength="15.50" lengthAdjust="spacingAndGlyphs" font-family="'Liberation Sans', Arial, sans-serif" >100</text><text x="1652" y="794" font-size="9.6" fill="#000" stroke="#000" stroke-width="0.2" textLength="10.00" lengthAdjust="spacingAndGlyphs" font-family="'Liberation Sans', Arial, sans-serif" >80</text><text x="1652" y="845.5" font-size="9.6" fill="#000" stroke="#000" stroke-width="0.2" textLength="10.00" lengthAdjust="spacingAndGlyphs" font-family="'Liberation Sans', Arial, sans-serif" >50</text><text x="1652" y="906" font-size="9.6" fill="#000" stroke="#000" stroke-width="0.2" textLength="10.00" lengthAdjust="spacingAndGlyphs" font-family="'Liberation Sans', Arial, sans-serif" >15</text><text x="1652" y="925" font-size="9.6" fill="#000" stroke="#000" stroke-width="0.2" textLength="5.00" lengthAdjust="spacingAndGlyphs" font-family="'Liberation Sans', Arial, sans-serif" >0</text><g fill="#000" shape-rendering="crispEdges"><rect x="53" y="929" width="1" height="3"/><rect x="117" y="929" width="1" height="3"/><rect x="181" y="929" width="1" height="3"/><rect x="245" y="929" width="1" height="3"/><rect x="309" y="929" width="1" height="3"/><rect x="373" y="929" width="1" height="3"/><rect x="437" y="929" width="1" height="3"/><rect x="501" y="929" width="1" height="3"/><rect x="565" y="929" width="1" height="3"/><rect x="629" y="929" width="1" height="3"/><rect x="693" y="929" width="1" height="3"/><rect x="757" y="929" width="1" height="3"/><rect x="821" y="929" width="1" height="3"/><rect x="885" y="929" width="1" height="3"/><rect x="949" y="929" width="1" height="3"/><rect x="1013" y="929" width="1" height="3"/><rect x="1077" y="929" width="1" height="3"/><rect x="1141" y="929" width="1" height="3"/><rect x="1205" y="929" width="1" height="3"/><rect x="1269" y="929" width="1" height="3"/><rect x="1333" y="929" width="1" height="3"/></g><text x="-11.215113281249998" y="942.3" font-size="10" fill="#000" stroke="#000" stroke-width="0.2" textLength="45.72" lengthAdjust="spacingAndGlyphs" font-family="'Liberation Sans', Arial, sans-serif" >6 Apr 2022</text><text x="52" y="942.3" font-size="10" fill="#000" stroke="#000" stroke-width="0.2" textLength="48.34" lengthAdjust="spacingAndGlyphs" font-family="'Liberation Sans', Arial, sans-serif" >7 Apr 08:00</text><text x="116" y="942.3" font-size="10" fill="#000" stroke="#000" stroke-width="0.2" textLength="48.34" lengthAdjust="spacingAndGlyphs" font-family="'Liberation Sans', Arial, sans-serif" >8 Apr 16:00</text><text x="180" y="942.3" font-size="10" fill="#000" stroke="#000" stroke-width="0.2" textLength="53.60" lengthAdjust="spacingAndGlyphs" font-family="'Liberation Sans', Arial, sans-serif" >12 Apr 04:00</text><text x="244" y="942.3" font-size="10" fill="#000" stroke="#000" stroke-width="0.2" textLength="53.60" lengthAdjust="spacingAndGlyphs" font-family="'Liberation Sans', Arial, sans-serif" >13 Apr 12:00</text><text x="308" y="942.3" font-size="10" fill="#000" stroke="#000" stroke-width="0.2" textLength="53.60" lengthAdjust="spacingAndGlyphs" font-family="'Liberation Sans', Arial, sans-serif" >14 Apr 20:00</text><text x="372" y="942.3" font-size="10" fill="#000" stroke="#000" stroke-width="0.2" textLength="53.60" lengthAdjust="spacingAndGlyphs" font-family="'Liberation Sans', Arial, sans-serif" >18 Apr 08:00</text><text x="436" y="942.3" font-size="10" fill="#000" stroke="#000" stroke-width="0.2" textLength="53.60" lengthAdjust="spacingAndGlyphs" font-family="'Liberation Sans', Arial, sans-serif" >19 Apr 16:00</text><text x="500" y="942.3" font-size="10" fill="#000" stroke="#000" stroke-width="0.2" textLength="53.60" lengthAdjust="spacingAndGlyphs" font-family="'Liberation Sans', Arial, sans-serif" >21 Apr 00:00</text><text x="564" y="942.3" font-size="10" fill="#000" stroke="#000" stroke-width="0.2" textLength="53.60" lengthAdjust="spacingAndGlyphs" font-family="'Liberation Sans', Arial, sans-serif" >22 Apr 08:00</text><text x="628" y="942.3" font-size="10" fill="#000" stroke="#000" stroke-width="0.2" textLength="53.60" lengthAdjust="spacingAndGlyphs" font-family="'Liberation Sans', Arial, sans-serif" >25 Apr 20:00</text><text x="692" y="942.3" font-size="10" fill="#000" stroke="#000" stroke-width="0.2" textLength="53.60" lengthAdjust="spacingAndGlyphs" font-family="'Liberation Sans', Arial, sans-serif" >27 Apr 04:00</text><text x="756" y="942.3" font-size="10" fill="#000" stroke="#000" stroke-width="0.2" textLength="53.60" lengthAdjust="spacingAndGlyphs" font-family="'Liberation Sans', Arial, sans-serif" >28 Apr 12:00</text><text x="820" y="942.3" font-size="10" fill="#000" stroke="#000" stroke-width="0.2" textLength="52.01" lengthAdjust="spacingAndGlyphs" font-family="'Liberation Sans', Arial, sans-serif" >2 May 00:00</text><text x="884" y="942.3" font-size="10" fill="#000" stroke="#000" stroke-width="0.2" textLength="52.01" lengthAdjust="spacingAndGlyphs" font-family="'Liberation Sans', Arial, sans-serif" >3 May 08:00</text><text x="948" y="942.3" font-size="10" fill="#000" stroke="#000" stroke-width="0.2" textLength="52.01" lengthAdjust="spacingAndGlyphs" font-family="'Liberation Sans', Arial, sans-serif" >4 May 16:00</text><text x="1012" y="942.3" font-size="10" fill="#000" stroke="#000" stroke-width="0.2" textLength="52.01" lengthAdjust="spacingAndGlyphs" font-family="'Liberation Sans', Arial, sans-serif" >6 May 00:00</text><text x="1076" y="942.3" font-size="10" fill="#000" stroke="#000" stroke-width="0.2" textLength="52.01" lengthAdjust="spacingAndGlyphs" font-family="'Liberation Sans', Arial, sans-serif" >9 May 12:00</text><text x="1140" y="942.3" font-size="10" fill="#000" stroke="#000" stroke-width="0.2" textLength="57.26" lengthAdjust="spacingAndGlyphs" font-family="'Liberation Sans', Arial, sans-serif" >10 May 20:00</text><text x="1204" y="942.3" font-size="10" fill="#000" stroke="#000" stroke-width="0.2" textLength="57.26" lengthAdjust="spacingAndGlyphs" font-family="'Liberation Sans', Arial, sans-serif" >12 May 04:00</text><text x="1268" y="942.3" font-size="10" fill="#000" stroke="#000" stroke-width="0.2" textLength="57.26" lengthAdjust="spacingAndGlyphs" font-family="'Liberation Sans', Arial, sans-serif" >13 May 12:00</text><text x="1332" y="942.3" font-size="10" fill="#000" stroke="#000" stroke-width="0.2" textLength="57.26" lengthAdjust="spacingAndGlyphs" font-family="'Liberation Sans', Arial, sans-serif" >17 May 00:00</text><text x="4.6" y="39.2" font-size="9.6" fill="#000" stroke="#000" stroke-width="0.2" textLength="58.10" lengthAdjust="spacingAndGlyphs" font-family="'Liberation Sans', Arial, sans-serif" >USDCNH-,H4</text><text x="68.75" y="39.2" font-size="9.6" fill="#000" stroke="#000" stroke-width="0.2" textLength="140.75" lengthAdjust="spacingAndGlyphs" font-family="'Liberation Sans', Arial, sans-serif" >6.73717 6.73919 6.73400 6.73784</text><text x="-6" y="595.5" font-size="9.6" fill="#000" stroke="#000" stroke-width="0.2" textLength="149.70" lengthAdjust="spacingAndGlyphs" font-family="'Liberation Sans', Arial, sans-serif" >MACD(12,26,9) -0.007040 0.004849</text><text x="-6.6" y="767.5" font-size="10" fill="#000" stroke="#000" stroke-width="0.2" textLength="67.20" lengthAdjust="spacingAndGlyphs" font-family="'Liberation Sans', Arial, sans-serif" >RSI(14) 37.7023</text><g fill="#000" shape-rendering="crispEdges"><rect x="32" y="28" width="1" height="1"/><rect x="31" y="29" width="1" height="1"/><rect x="33" y="29" width="1" height="1"/><rect x="32" y="30" width="1" height="1"/></g><defs><linearGradient id="ghead" x1="0" y1="0" x2="0" y2="1"><stop offset="0" stop-color="#5a5aff"/><stop offset="1" stop-color="#3737ea"/></linearGradient><linearGradient id="gblock" x1="0" y1="0" x2="0" y2="1"><stop offset="0" stop-color="#3636e8"/><stop offset="1" stop-color="#0000b4"/></linearGradient><linearGradient id="gbtn" x1="0" y1="0" x2="0" y2="1"><stop offset="0" stop-color="#f2f2f2"/><stop offset="0.35" stop-color="#e6e6e6"/><stop offset="0.36" stop-color="#d9d9d9"/><stop offset="1" stop-color="#d2d2d2"/></linearGradient></defs><g shape-rendering="crispEdges"><rect x="44" y="47" width="115" height="24" fill="#fff"/><path d="M0 47H44V71H101V104H0Z" fill="#0a0aa8"/><rect x="0" y="48" width="43" height="22" fill="url(#ghead)"/><rect x="0" y="72" width="100" height="31" fill="url(#gblock)"/><rect x="43" y="71" width="1" height="1" fill="#2a2ad8"/><rect x="0" y="71" width="40" height="1" fill="#7070ff"/><path d="M159 47H211V104H103V71H159Z" fill="#0a0aa8"/><rect x="160" y="48" width="50" height="22" fill="url(#ghead)"/><rect x="104" y="72" width="106" height="31" fill="url(#gblock)"/><rect x="163" y="71" width="44" height="1" fill="#7070ff"/><rect x="46.5" y="47.5" width="110" height="21" fill="#ffffff" stroke="#a8a8a8"/><rect x="48" y="49" width="19" height="18" fill="url(#gbtn)"/><rect x="67" y="48" width="1" height="20" fill="#b8b8b8"/><rect x="136" y="49" width="19" height="18" fill="url(#gbtn)"/><rect x="135" y="48" width="1" height="20" fill="#b8b8b8"/></g><path d="M53.6 56 h5.6 l-2.8 3z" fill="#4a64c8"/><path d="M142.8 59 h5.6 l-2.8 -3z" fill="#4a64c8"/><text x="108.8" y="62.2" font-size="12" fill="#000" textLength="23.00" lengthAdjust="spacingAndGlyphs" font-family="'Liberation Sans', Arial, sans-serif" >1.00</text><text x="4.6" y="63.2" font-size="12.5" fill="#fff" textLength="25.60" lengthAdjust="spacingAndGlyphs" font-family="'Liberation Sans', Arial, sans-serif" >SELL</text><text x="173" y="63.2" font-size="12.5" fill="#fff" textLength="23.20" lengthAdjust="spacingAndGlyphs" font-family="'Liberation Sans', Arial, sans-serif" >BUY</text><text x="12" y="99" font-size="12.5" fill="#fff" font-weight="bold" textLength="24.20" lengthAdjust="spacingAndGlyphs" font-family="'Liberation Sans', Arial, sans-serif" >6.73</text><text x="122" y="99" font-size="12.5" fill="#fff" font-weight="bold" textLength="24.00" lengthAdjust="spacingAndGlyphs" font-family="'Liberation Sans', Arial, sans-serif" >6.74</text><text x="40.4" y="99.3" font-size="34" fill="#fff" textLength="33.80" lengthAdjust="spacingAndGlyphs" font-family="'Liberation Sans', Arial, sans-serif" >78</text><text x="150.8" y="99.3" font-size="34" fill="#fff" textLength="34.20" lengthAdjust="spacingAndGlyphs" font-family="'Liberation Sans', Arial, sans-serif" >78</text><text x="79" y="83.2" font-size="12.8" fill="#fff" textLength="7.20" lengthAdjust="spacingAndGlyphs" font-family="'Liberation Sans', Arial, sans-serif" >4</text><text x="190" y="83.2" font-size="12.8" fill="#fff" textLength="7.20" lengthAdjust="spacingAndGlyphs" font-family="'Liberation Sans', Arial, sans-serif" >4</text><defs><pattern id="dots" width="2" height="2" patternUnits="userSpaceOnUse"><rect width="2" height="2" fill="#f7f7f7"/><rect width="1" height="1" fill="#ececec"/></pattern><linearGradient id="gclock" x1="0" y1="0" x2="0" y2="1"><stop offset="0" stop-color="#5aa0f0"/><stop offset="1" stop-color="#0a4fb0"/></linearGradient><radialGradient id="gmag" cx="0.4" cy="0.35" r="0.7"><stop offset="0" stop-color="#ffffff"/><stop offset="1" stop-color="#a8d0f0"/></radialGradient><linearGradient id="gbook" x1="0.2" y1="0" x2="0.6" y2="1"><stop offset="0" stop-color="#fff4a0"/><stop offset="0.45" stop-color="#e8c028"/><stop offset="1" stop-color="#b07818"/></linearGradient><linearGradient id="gplus" x1="0" y1="0" x2="0" y2="1"><stop offset="0" stop-color="#60f060"/><stop offset="1" stop-color="#10a010"/></linearGradient></defs><path d="M0 16 L2.5 18.5 L0 21z" fill="#d8a020"/><rect x="9" y="1" width="1" height="20" fill="#a0a0a0"/><rect x="10" y="1" width="1" height="20" fill="#ffffff"/><path d="M19.6 3.6h7.6l3.2 3.2v9.6h-10.8z" fill="#ffffff" stroke="#666" stroke-width="1" stroke-linejoin="round"/><path d="M27.2 3.6v3.2h3.2" fill="#e8e8e8" stroke="#666" stroke-width="1"/><g fill="#777" shape-rendering="crispEdges"><rect x="21" y="5" width="3" height="2"/><rect x="21" y="9" width="6" height="1"/><rect x="21" y="11" width="5" height="1"/><rect x="21" y="13" width="3" height="1"/></g><path d="M23.5 13.5h4v-4h3v4h4v3h-4v4h-3v-4h-4z" fill="#22e840" stroke="#038a10" stroke-width="1.1" stroke-linejoin="miter"/><path d="M24.5 14.6h5" stroke="#7af890" stroke-width="0.8"/><text x="38" y="14.5" font-size="12" fill="#000" textLength="36.00" lengthAdjust="spacingAndGlyphs" font-family="'Liberation Sans', 'Noto Sans CJK SC', 'WenQuanYi Zen Hei', sans-serif" >新订单</text><path d="M92 4.3 L101.3 12.3 L94 18.6 L86.3 12.6 L90.2 8.6 Z" fill="url(#gbook)" stroke="#9a6010" stroke-width="0.9" stroke-linejoin="round"/><path d="M87.5 12.8 L94 17.6" stroke="#f8e8a0" stroke-width="1"/><path d="M99.5 13.2 L94.5 17.6" stroke="#e8dca0" stroke-width="1.2"/><path d="M116.3 4.5 L118.5 3.3 L126.5 3.3 L126.5 12 L116.3 12 Z" fill="#1a9af0" stroke="#2a78d8" stroke-width="0.6"/><path d="M119.6 5 V12" stroke="#e8f6ff" stroke-width="0.8"/><path d="M116.6 4.4 L119.6 5.2" stroke="#e8f6ff" stroke-width="0.8"/><rect x="121" y="7.6" width="4.5" height="1.1" fill="#e0f2ff"/><path d="M115.2 17.8 q-1.8 -4.2 2.6 -4.5 q1.2 -2.8 4.6 -1.8 q2.2 -1.6 4.2 0.6 q3.4 0 2.6 4.2 q-0.2 1.6 -1.6 1.8 z" fill="#e4e8f2" stroke="#4a5c8c" stroke-width="0.9" stroke-linejoin="round"/><defs><linearGradient id="grad_r" x1="0" y1="0" x2="1" y2="0"><stop offset="0" stop-color="#3a64d0"/><stop offset="0.55" stop-color="#a8c8e8"/><stop offset="1" stop-color="#3a9a40"/></linearGradient></defs><g fill="none" stroke="url(#grad_r)" stroke-width="1.2"><circle cx="149.8" cy="10.7" r="7.6"/><circle cx="149.8" cy="10.7" r="4.6"/></g><path d="M150.3 18.3 A7.6 7.6 0 0 0 157.4 10.7 L154.4 10.7 A4.6 4.6 0 0 1 150.3 15.3z" fill="#7cc07c" opacity="0.75"/><circle cx="149.8" cy="10.7" r="1.9" fill="#2a52c8"/><rect x="149.8" y="10.8" width="1.4" height="7.8" fill="#22a022"/><path d="M170 11 L182.5 10 L177.5 18.6 Z" fill="#f2dc50" stroke="#c09418" stroke-width="0.8" stroke-linejoin="round"/><path d="M169.2 8.6 q0.2 -2.4 4 -2.6 q0.4 -3 3.6 -3 q3.2 0 3.6 3 q4.2 0.2 4.6 2.6 q-0.2 2 -8 2.2 q-7.6 -0.2 -7.8 -2.2z" fill="#70bdf0" stroke="#2a82b8" stroke-width="0.9"/><circle cx="181.4" cy="14.9" r="4.1" fill="#e82a10" stroke="#b81808" stroke-width="0.6"/><rect x="180" y="13.6" width="2.8" height="2.6" fill="#fff"/><text x="190.5" y="14.5" font-size="12" fill="#000" textLength="47.00" lengthAdjust="spacingAndGlyphs" font-family="'Liberation Sans', 'Noto Sans CJK SC', 'WenQuanYi Zen Hei', sans-serif" >自动交易</text><rect x="245" y="1" width="1" height="20" fill="#a0a0a0"/><rect x="246" y="1" width="1" height="20" fill="#ffffff"/><rect x="248" y="2" width="3" height="1" fill="#a8a8a8"/><rect x="248" y="4" width="3" height="1" fill="#a8a8a8"/><rect x="248" y="6" width="3" height="1" fill="#a8a8a8"/><rect x="248" y="8" width="3" height="1" fill="#a8a8a8"/><rect x="248" y="10" width="3" height="1" fill="#a8a8a8"/><rect x="248" y="12" width="3" height="1" fill="#a8a8a8"/><rect x="248" y="14" width="3" height="1" fill="#a8a8a8"/><rect x="248" y="16" width="3" height="1" fill="#a8a8a8"/><rect x="248" y="18" width="3" height="1" fill="#a8a8a8"/><rect x="248" y="20" width="3" height="1" fill="#a8a8a8"/><g shape-rendering="crispEdges"><g fill="#555"><rect x="263" y="5" width="1" height="14"/><rect x="262" y="6" width="3" height="1"/><rect x="261" y="16" width="14" height="1"/><rect x="274" y="15" width="1" height="3"/></g><rect x="269" y="7" width="1" height="7" fill="#20a020"/><rect x="270" y="7" width="2" height="1" fill="#20a020"/><rect x="267" y="13" width="2" height="1" fill="#20a020"/></g><rect x="283" y="1" width="1" height="20" fill="#a0a0a0"/><rect x="284" y="1" width="1" height="20" fill="#ffffff"/><rect x="285" y="0" width="24" height="21" fill="url(#dots)"/><g shape-rendering="crispEdges"><g fill="#555"><rect x="291" y="5" width="1" height="14"/><rect x="290" y="6" width="3" height="1"/><rect x="289" y="16" width="14" height="1"/><rect x="302" y="15" width="1" height="3"/></g><rect x="297" y="3" width="1" height="12" fill="#108010"/><rect x="295" y="5" width="5" height="8" fill="#30d030" stroke="#108010" stroke-width="1"/></g><g shape-rendering="crispEdges"><g fill="#555"><rect x="319" y="5" width="1" height="14"/><rect x="318" y="6" width="3" height="1"/><rect x="317" y="16" width="14" height="1"/><rect x="330" y="15" width="1" height="3"/></g></g><path d="M318 13.5 Q323 6 326 7.5 T330.5 12" fill="none" stroke="#20a020" stroke-width="1"/><rect x="340" y="1" width="1" height="20" fill="#a0a0a0"/><rect x="341" y="1" width="1" height="20" fill="#ffffff"/><path d="M358 12.5 l5.5 6" stroke="#a08010" stroke-width="2.6" stroke-linecap="round"/><path d="M358 12.5 l5.5 6" stroke="#f0d060" stroke-width="1.2" stroke-linecap="round"/><circle cx="355" cy="9" r="5.3" fill="url(#gmag)" stroke="#3a70c8" stroke-width="1.2"/><rect x="352" y="8.2" width="6" height="1.6" fill="#3a70c8"/><rect x="354.2" y="6" width="1.6" height="6" fill="#3a70c8"/><path d="M386 12.5 l5.5 6" stroke="#a08010" stroke-width="2.6" stroke-linecap="round"/><path d="M386 12.5 l5.5 6" stroke="#f0d060" stroke-width="1.2" stroke-linecap="round"/><circle cx="383" cy="9" r="5.3" fill="url(#gmag)" stroke="#3a70c8" stroke-width="1.2"/><rect x="380" y="8.2" width="6" height="1.6" fill="#3a70c8"/><g shape-rendering="crispEdges"><rect x="404.5" y="3.5" width="7" height="7" fill="#40a020" stroke="#207010"/><rect x="413.5" y="3.5" width="7" height="7" fill="#3060d0" stroke="#1a3a90"/><rect x="404.5" y="11.5" width="7" height="7" fill="#3060d0" stroke="#1a3a90"/><rect x="413.5" y="11.5" width="7" height="7" fill="#40a020" stroke="#207010"/><rect x="406" y="6" width="4" height="2" fill="#e8ffe0"/><rect x="415" y="6" width="4" height="2" fill="#e0e8ff"/><rect x="406" y="14" width="4" height="2" fill="#e0e8ff"/><rect x="415" y="14" width="4" height="2" fill="#e8ffe0"/></g><rect x="430" y="1" width="1" height="20" fill="#a0a0a0"/><rect x="431" y="1" width="1" height="20" fill="#ffffff"/><rect x="435" y="1" width="1" height="20" fill="#a0a0a0"/><rect x="436" y="1" width="1" height="20" fill="#ffffff"/><rect x="437" y="0" width="23" height="21" fill="url(#dots)"/><g shape-rendering="crispEdges"><g fill="#555"><rect x="443" y="5" width="1" height="14"/><rect x="442" y="6" width="3" height="1"/><rect x="441" y="16" width="14" height="1"/><rect x="454" y="15" width="1" height="3"/></g></g><path d="M448.5 8 v5.5 l4 -2.75z" fill="#30c030" stroke="#108010" stroke-width="0.6"/><rect x="463" y="1" width="1" height="20" fill="#a0a0a0"/><rect x="464" y="1" width="1" height="20" fill="#ffffff"/><rect x="465" y="0" width="23" height="21" fill="url(#dots)"/><g shape-rendering="crispEdges"><g fill="#555"><rect x="471" y="5" width="1" height="14"/><rect x="470" y="6" width="3" height="1"/><rect x="469" y="16" width="14" height="1"/><rect x="482" y="15" width="1" height="3"/></g><rect x="477" y="5" width="1" height="10" fill="#2060c0"/></g><path d="M478.5 10.5 l4 -2.5 v1.8 h1 v1.4 h-1 v1.8z" fill="#e05010"/><rect x="492" y="1" width="1" height="20" fill="#a0a0a0"/><rect x="493" y="1" width="1" height="20" fill="#ffffff"/><g shape-rendering="crispEdges"><path d="M502.5 3.5h7l3 3v10h-10z" fill="#fafafa" stroke="#8a8a8a"/><rect x="505" y="7" width="1" height="6" fill="#707070"/><rect x="505" y="7" width="2" height="1" fill="#707070"/></g><path d="M507 12h3.5v-3.5h3.5v3.5h3.5v3.5h-3.5v3.5h-3.5v-3.5h-3.5z" fill="url(#gplus)" stroke="#0a8a0a" stroke-width="0.9"/><path d="M524 10h5l-2.5 3z" fill="#000"/><circle cx="548" cy="10.8" r="7.6" fill="url(#gclock)"/><circle cx="548" cy="10.8" r="5.4" fill="#f4f8ff" stroke="#8ab0e0" stroke-width="0.5"/><path d="M548 7.5v3.5h3" fill="none" stroke="#203040" stroke-width="1.1"/><path d="M563 10h5l-2.5 3z" fill="#000"/><g shape-rendering="crispEdges"><rect x="579.5" y="4.5" width="15" height="13" fill="#ffffff" stroke="#3a6ad0"/><rect x="580" y="5" width="14" height="2" fill="#4a80e0"/><rect x="580" y="11" width="14" height="1" fill="#3a6ad0"/></g><path d="M581 10 l3 -1 l3 0.5 l3 -1.5 l3 0.5" fill="none" stroke="#c03020" stroke-width="0.9"/><path d="M581 15.5 l3 -1.5 l3 1 l3 -2 l3 1.5" fill="none" stroke="#20a020" stroke-width="0.9"/><path d="M602 10h5l-2.5 3z" fill="#000"/><rect x="613" y="1" width="1" height="20" fill="#a0a0a0"/><rect x="614" y="1" width="1" height="20" fill="#ffffff"/><rect x="617" y="2" width="3" height="1" fill="#a8a8a8"/><rect x="617" y="4" width="3" height="1" fill="#a8a8a8"/><rect x="617" y="6" width="3" height="1" fill="#a8a8a8"/><rect x="617" y="8" width="3" height="1" fill="#a8a8a8"/><rect x="617" y="10" width="3" height="1" fill="#a8a8a8"/><rect x="617" y="12" width="3" height="1" fill="#a8a8a8"/><rect x="617" y="14" width="3" height="1" fill="#a8a8a8"/><rect x="617" y="16" width="3" height="1" fill="#a8a8a8"/><rect x="617" y="18" width="3" height="1" fill="#a8a8a8"/><rect x="617" y="20" width="3" height="1" fill="#a8a8a8"/><rect x="623" y="1" width="1" height="20" fill="#a0a0a0"/><rect x="624" y="1" width="1" height="20" fill="#ffffff"/><rect x="625" y="0" width="23" height="21" fill="url(#dots)"/><path d="M631 4 v11.5 l2.6 -2.4 l2.2 4.6 l1.8 -0.9 l-2.2 -4.4 h3.6z" fill="#4a4a4a"/><g fill="#505050" shape-rendering="crispEdges"><rect x="663" y="4" width="1" height="6"/><rect x="663" y="12" width="1" height="6"/><rect x="656" y="11" width="6" height="1"/><rect x="665" y="11" width="6" height="1"/></g><rect x="680" y="1" width="1" height="20" fill="#a0a0a0"/><rect x="681" y="1" width="1" height="20" fill="#ffffff"/><g fill="#505050" shape-rendering="crispEdges"><rect x="697" y="5" width="1" height="13"/><rect x="720" y="11" width="12" height="1"/></g><path d="M748 17.5 L760 6" stroke="#505050" stroke-width="1"/><g stroke="#505050" stroke-width="0.9" fill="none"><path d="M774 13 L786 3.5"/><path d="M776 17 L788 7.5"/><path d="M777 6.5v7M780 5v7M783 3.5v7"/></g><text x="785.5" y="19.5" font-size="6.5" fill="#404040" font-weight="bold" font-family="'Liberation Sans', Arial, sans-serif" >E</text><g fill="#606060" shape-rendering="crispEdges"><rect x="803" y="4" width="1" height="1"/><rect x="805" y="4" width="1" height="1"/><rect x="807" y="4" width="1" height="1"/><rect x="809" y="4" width="1" height="1"/><rect x="811" y="4" width="1" height="1"/><rect x="813" y="4" width="1" height="1"/><rect x="815" y="4" width="1" height="1"/><rect x="803" y="7" width="1" height="1"/><rect x="805" y="7" width="1" height="1"/><rect x="807" y="7" width="1" height="1"/><rect x="809" y="7" width="1" height="1"/><rect x="811" y="7" width="1" height="1"/><rect x="813" y="7" width="1" height="1"/><rect x="815" y="7" width="1" height="1"/><rect x="803" y="11" width="1" height="1"/><rect x="805" y="11" width="1" height="1"/><rect x="807" y="11" width="1" height="1"/><rect x="809" y="11" width="1" height="1"/><rect x="811" y="11" width="1" height="1"/><rect x="813" y="11" width="1" height="1"/><rect x="815" y="11" width="1" height="1"/><rect x="803" y="15" width="1" height="1"/><rect x="805" y="15" width="1" height="1"/><rect x="807" y="15" width="1" height="1"/><rect x="809" y="15" width="1" height="1"/><rect x="811" y="15" width="1" height="1"/></g><text x="812.5" y="19.8" font-size="6.5" fill="#404040" font-weight="bold" font-family="'Liberation Sans', Arial, sans-serif" >F</text><text x="833.5" y="15.5" font-size="11.5" fill="#505050" font-weight="bold" font-family="'Liberation Sans', Arial, sans-serif" >A</text><rect x="859.5" y="4.5" width="12" height="13" fill="none" stroke="#606060" stroke-dasharray="1,1" shape-rendering="crispEdges"/><text x="862" y="15.5" font-size="11" fill="#505050" font-weight="bold" font-family="'Liberation Sans', Arial, sans-serif" >T</text><path d="M886.8 7.2 l3.6 -3 l3.6 3 l-3.6 2.6z" fill="#404040"/><path d="M894.4 15.6 l3.6 -2.8 l3.6 2.8 l-3.6 3z" fill="#404040"/><path d="M889 11 l2.5 3 l5 -6" fill="none" stroke="#404040" stroke-width="1.3"/><path d="M908 10h5l-2.5 3z" fill="#000"/><rect x="919" y="1" width="1" height="20" fill="#a0a0a0"/><rect x="920" y="1" width="1" height="20" fill="#ffffff"/><rect x="923" y="2" width="3" height="1" fill="#a8a8a8"/><rect x="923" y="4" width="3" height="1" fill="#a8a8a8"/><rect x="923" y="6" width="3" height="1" fill="#a8a8a8"/><rect x="923" y="8" width="3" height="1" fill="#a8a8a8"/><rect x="923" y="10" width="3" height="1" fill="#a8a8a8"/><rect x="923" y="12" width="3" height="1" fill="#a8a8a8"/><rect x="923" y="14" width="3" height="1" fill="#a8a8a8"/><rect x="923" y="16" width="3" height="1" fill="#a8a8a8"/><rect x="923" y="18" width="3" height="1" fill="#a8a8a8"/><rect x="923" y="20" width="3" height="1" fill="#a8a8a8"/><rect x="1069" y="1" width="1" height="20" fill="#a0a0a0"/><rect x="1070" y="1" width="1" height="20" fill="#ffffff"/><rect x="1071" y="0" width="23" height="21" fill="url(#dots)"/><text x="934.6" y="15.2" font-size="10.3" fill="#3c3c3c" textLength="12.40" lengthAdjust="spacingAndGlyphs" font-family="'Liberation Sans', Arial, sans-serif" >M1</text><text x="962.6" y="15.2" font-size="10.3" fill="#3c3c3c" textLength="12.40" lengthAdjust="spacingAndGlyphs" font-family="'Liberation Sans', Arial, sans-serif" >M5</text><text x="988.4" y="15.2" font-size="10.3" fill="#3c3c3c" textLength="18.20" lengthAdjust="spacingAndGlyphs" font-family="'Liberation Sans', Arial, sans-serif" >M15</text><text x="1016.4" y="15.2" font-size="10.3" fill="#3c3c3c" textLength="17.90" lengthAdjust="spacingAndGlyphs" font-family="'Liberation Sans', Arial, sans-serif" >M30</text><text x="1047.3" y="15.2" font-size="10.3" fill="#3c3c3c" textLength="11.90" lengthAdjust="spacingAndGlyphs" font-family="'Liberation Sans', Arial, sans-serif" >H1</text><text x="1074.5" y="15.2" font-size="10.3" fill="#3c3c3c" textLength="12.60" lengthAdjust="spacingAndGlyphs" font-family="'Liberation Sans', Arial, sans-serif" >H4</text><text x="1103.4" y="15.2" font-size="10.3" fill="#3c3c3c" textLength="11.90" lengthAdjust="spacingAndGlyphs" font-family="'Liberation Sans', Arial, sans-serif" >D1</text><text x="1131" y="15.2" font-size="10.3" fill="#3c3c3c" textLength="14.60" lengthAdjust="spacingAndGlyphs" font-family="'Liberation Sans', Arial, sans-serif" >W1</text><text x="1157.7" y="15.2" font-size="10.3" fill="#3c3c3c" textLength="14.80" lengthAdjust="spacingAndGlyphs" font-family="'Liberation Sans', Arial, sans-serif" >MN</text><rect x="1180" y="1" width="1" height="20" fill="#a0a0a0"/><rect x="1181" y="1" width="1" height="20" fill="#ffffff"/><circle cx="1649.4" cy="8.6" r="4.6" fill="none" stroke="#3a70d8" stroke-width="1.6"/><path d="M1646 12 L1642.5 15.8" stroke="#3a70d8" stroke-width="2.2" stroke-linecap="round"/><path d="M1667.5 14 q0 -5 6 -5 q6 0 6 5 q0 4.5 -6 4.5 l-2.5 0 l-2 2.5 l0 -3 q-1.5 -1.2 -1.5 -4z" fill="#e6e8f2" stroke="#a0a4b4" stroke-width="0.8"/><circle cx="1681.8" cy="8.4" r="7.8" fill="#d8281c"/><circle cx="1681.8" cy="7.6" r="6.6" fill="#e23a26"/><text x="1678.6" y="12.8" font-size="12" fill="#fff" textLength="6.50" lengthAdjust="spacingAndGlyphs" font-family="'Liberation Sans', Arial, sans-serif" >1</text><line x1="1249.5" y1="65.5" x2="1383.47" y2="171.10" stroke="#ff0000" stroke-width="3.2" stroke-linecap="round"/><path d="M1390.70 176.80L1379.06 173.48L1384.75 166.25Z" fill="#ff0000" stroke="#ff0000" stroke-width="1" stroke-linejoin="round"/><line x1="1312.8" y1="648" x2="1390.23" y2="733.67" stroke="#ff0000" stroke-width="3.2" stroke-linecap="round"/><path d="M1396.40 740.50L1385.48 735.28L1392.30 729.11Z" fill="#ff0000" stroke="#ff0000" stroke-width="1" stroke-linejoin="round"/><line x1="1293.2" y1="813" x2="1383.85" y2="868.50" stroke="#ff0000" stroke-width="3.2" stroke-linecap="round"/><path d="M1391.70 873.30L1379.75 871.38L1384.55 863.53Z" fill="#ff0000" stroke="#ff0000" stroke-width="1" stroke-linejoin="round"/></svg></body></html>
